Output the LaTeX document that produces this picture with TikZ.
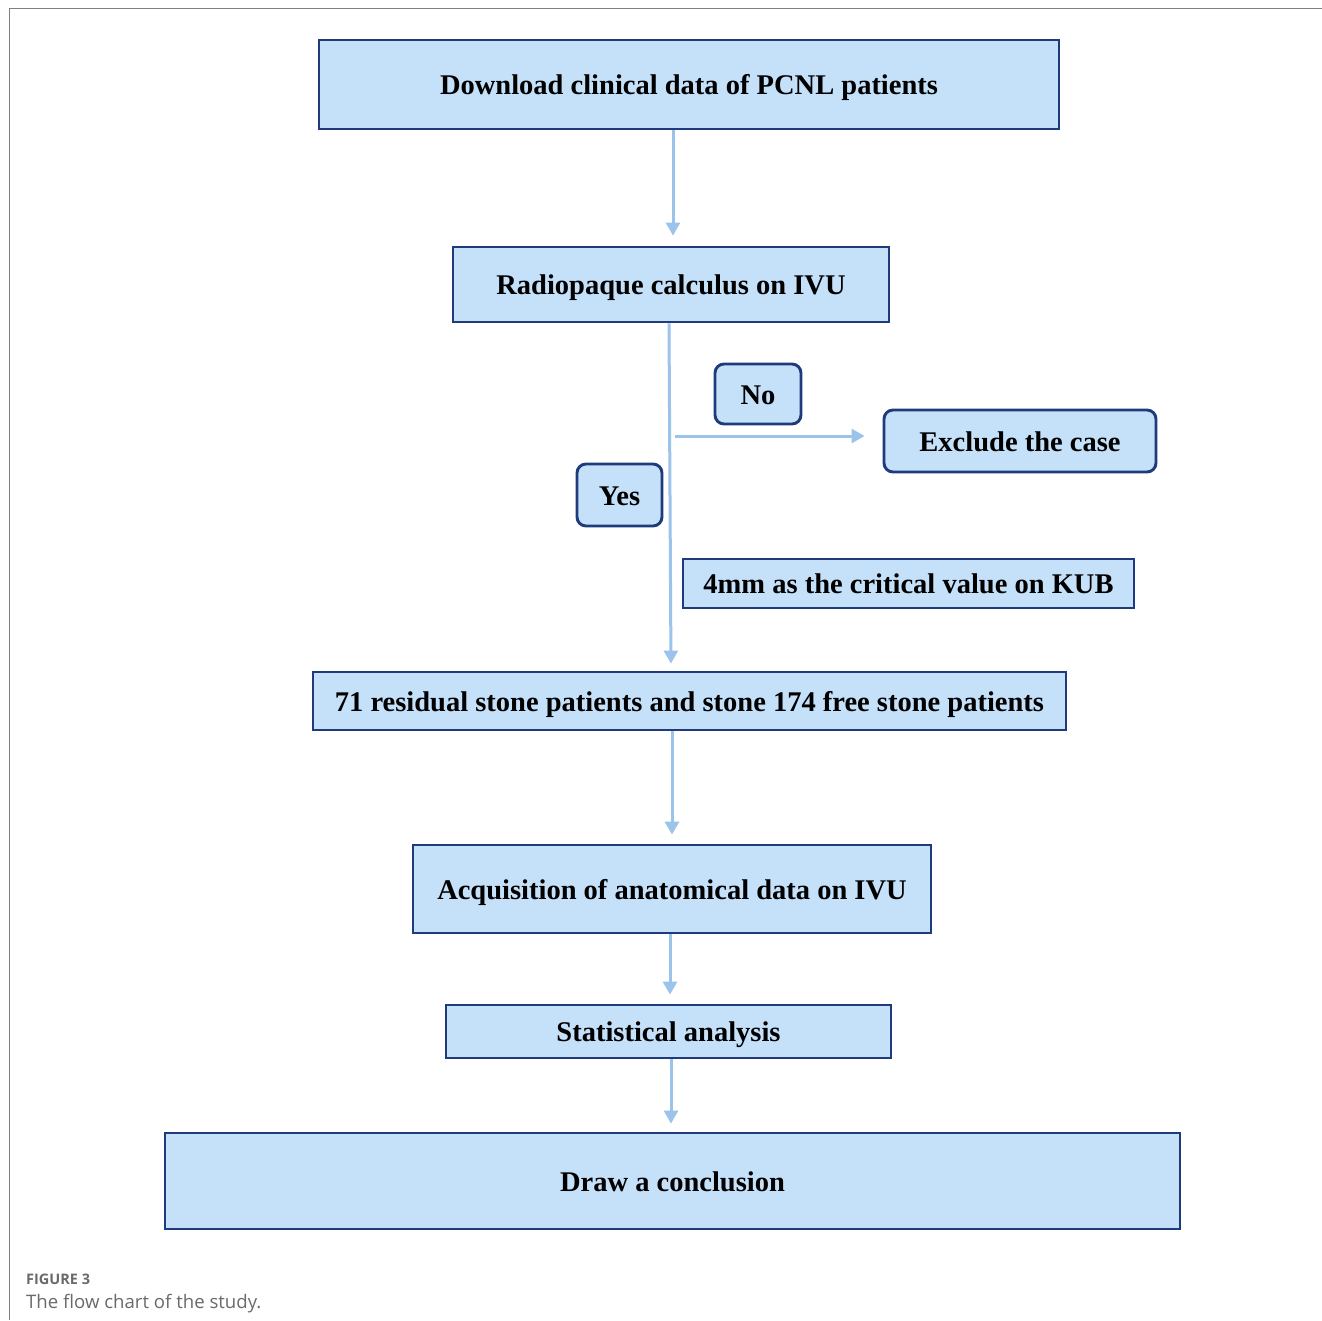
\documentclass[tikz,border=0pt]{standalone}
\usepackage{fontspec}
\setmainfont{Liberation Serif}
\newfontfamily\capfont{Open Sans}
\usetikzlibrary{arrows.meta}
\definecolor{boxfill}{HTML}{C5E0F9}
\definecolor{boxline}{HTML}{1F3B7C}
\definecolor{arrowc}{HTML}{9CC3EA}
\definecolor{framec}{HTML}{808080}
\definecolor{capc}{HTML}{6A6A6A}
\tikzset{
  box/.style={draw=boxline, fill=boxfill, line width=2.9pt, inner sep=0pt,
    text height=20pt, text depth=0pt,
    font=\fontsize{28.5}{32}\selectfont\bfseries, text=black},
  rbox/.style={box, rounded corners=9pt},
  arr/.style={draw=arrowc, line width=3pt, -{Triangle[width=14pt,length=13pt]}},
}
\begin{document}
\begin{tikzpicture}[x=1pt,y=-1pt]
\useasboundingbox (0,0) rectangle (1322,1320);
\fill[white] (0,0) rectangle (1322,1320);
% frame
\draw[framec, line width=1.5pt] (9.5,1320) -- (9.5,8.5) -- (1322,8.5);

\node[box, minimum width=740pt, minimum height=89pt] (n1) at (689,84.5) {Download clinical data of PCNL patients};
\node[box, minimum width=436pt, minimum height=75pt] (n2) at (671,284.5) {Radiopaque calculus on IVU};
\node[rbox, minimum width=86pt, minimum height=60pt] (no) at (758,394) {No};
\node[rbox, minimum width=272pt, minimum height=62pt] (ex) at (1020,441) {Exclude the case};
\node[rbox, minimum width=85pt, minimum height=62pt] (yes) at (619.5,495) {Yes};
\node[box, minimum width=451pt, minimum height=49pt] (kub) at (908.5,583.5) {4mm as the critical value on KUB};
\node[box, minimum width=753pt, minimum height=58pt] (n7) at (689.5,701) {71 residual stone patients and stone 174 free stone patients};
\node[box, minimum width=518pt, minimum height=88pt] (n8) at (672,889) {Acquisition of anatomical data on IVU};
\node[box, minimum width=445pt, minimum height=53pt] (n9) at (668.5,1031.5) {Statistical analysis};
\node[box, minimum width=1015pt, minimum height=96pt] (n10) at (672.5,1181) {Draw a conclusion};

\draw[arr, shorten >=10pt] ([xshift=-16pt]n1.south) -- ([xshift=2pt]n2.north);
\draw[arr, shorten >=7pt] ([xshift=-2pt]n2.south) -- ([xshift=-18.5pt]n7.north);
\coordinate (br) at (675,436);
\draw[arr, shorten >=18pt] (br) -- (ex.west |- br);
\draw[arr, shorten >=9pt] ([xshift=-17.5pt]n7.south) -- (n8.north);
\draw[arr, shorten >=9pt] ([xshift=-2pt]n8.south) -- ([xshift=1.5pt]n9.north);
\draw[arr, shorten >=8pt] ([xshift=2.5pt]n9.south) -- ([xshift=-1.5pt]n10.north);

\node[anchor=base west, inner sep=0pt, text=capc, font=\capfont\fontsize{14.5}{16}\selectfont\bfseries] (fig) at (26,1284) {FIGURE 3};
\node[anchor=base west, inner sep=0pt, text=capc, font=\capfont\fontsize{18.6}{22}\selectfont] (cap) at (26,1308) {The flow chart of the study.};
\end{tikzpicture}
\end{document}
